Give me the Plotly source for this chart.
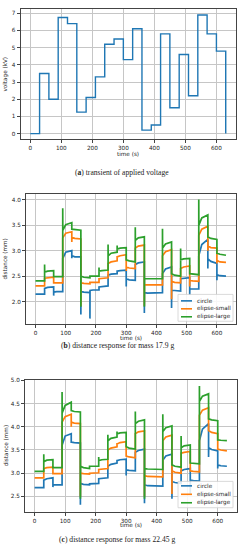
import plotly.graph_objects as go

# ---------------- data ----------------
time_steps = [0, 30, 60, 90, 120, 150, 180, 210, 240, 270, 300, 330, 360, 390, 420, 450, 480, 510, 540, 570, 600]
end_time = 630
voltage_kv = [0, 3.5, 2.0, 6.75, 6.4, 1.25, 2.1, 3.3, 5.2, 5.5, 4.3, 6.1, 0.2, 0.5, 5.8, 1.5, 4.6, 2.2, 6.9, 5.8, 4.8]
voltage_end = 0

series_names = ["circle", "elipse-small", "elipse-large"]

# mass 17.9 g  (per 30 s step: spike at step, level just after, level ~10 s later, level at end)
b_circle_spike = [2.15, 2.26, 2.12, 2.86, 2.85, 1.75, 1.67, 2.29, 2.52, 2.60, 2.30, 2.73, 1.78, 2.18, 2.55, 1.88, 2.45, 2.13, 2.90, 2.65, 2.42]
b_circle_start = [2.15, 2.26, 2.19, 2.85, 2.90, 2.20, 2.22, 2.29, 2.52, 2.60, 2.45, 2.73, 2.18, 2.18, 2.55, 2.22, 2.45, 2.25, 2.90, 2.84, 2.53]
b_circle_mid   = [2.15, 2.28, 2.20, 2.97, 2.88, 2.19, 2.23, 2.30, 2.54, 2.61, 2.43, 2.76, 2.17, 2.18, 2.64, 2.22, 2.46, 2.25, 3.12, 2.79, 2.51]
b_circle_end   = [2.15, 2.29, 2.20, 3.00, 2.88, 2.18, 2.23, 2.31, 2.55, 2.62, 2.42, 2.78, 2.17, 2.18, 2.68, 2.21, 2.47, 2.25, 3.22, 2.75, 2.50]

b_small_spike = [2.31, 2.46, 2.37, 3.25, 3.17, 1.92, 2.38, 2.45, 2.75, 2.88, 2.60, 3.05, 1.92, 2.33, 2.90, 2.05, 2.65, 2.30, 3.30, 3.00, 2.75]
b_small_start = [2.31, 2.46, 2.37, 3.25, 3.26, 2.37, 2.38, 2.45, 2.75, 2.88, 2.68, 3.05, 2.33, 2.33, 2.90, 2.40, 2.65, 2.42, 3.30, 3.09, 2.81]
b_small_mid   = [2.31, 2.47, 2.37, 3.34, 3.24, 2.36, 2.38, 2.46, 2.78, 2.90, 2.66, 3.09, 2.33, 2.33, 2.98, 2.38, 2.68, 2.41, 3.42, 3.06, 2.78]
b_small_end   = [2.31, 2.48, 2.37, 3.37, 3.23, 2.35, 2.38, 2.47, 2.80, 2.92, 2.65, 3.11, 2.33, 2.33, 3.02, 2.37, 2.70, 2.40, 3.48, 3.05, 2.77]

b_large_spike = [2.41, 2.73, 2.49, 3.83, 3.42, 1.90, 2.50, 2.67, 3.12, 3.10, 2.82, 3.46, 1.90, 2.45, 3.43, 2.55, 3.04, 2.55, 4.00, 3.27, 2.95]
b_large_start = [2.41, 2.58, 2.49, 3.40, 3.42, 2.50, 2.50, 2.60, 2.90, 3.03, 2.82, 3.20, 2.45, 2.45, 3.05, 2.55, 2.82, 2.55, 3.50, 3.27, 2.95]
b_large_mid   = [2.41, 2.60, 2.49, 3.51, 3.41, 2.48, 2.50, 2.61, 2.95, 3.05, 2.80, 3.25, 2.45, 2.45, 3.13, 2.52, 2.84, 2.54, 3.64, 3.24, 2.93]
b_large_end   = [2.41, 2.61, 2.49, 3.55, 3.40, 2.47, 2.50, 2.62, 2.97, 3.06, 2.78, 3.27, 2.45, 2.45, 3.17, 2.50, 2.85, 2.53, 3.70, 3.22, 2.91]

# mass 22.45 g
c_circle_spike = [2.69, 2.85, 2.70, 3.60, 3.67, 2.32, 2.77, 2.88, 3.15, 3.27, 2.95, 3.45, 2.35, 2.72, 3.28, 2.45, 3.05, 2.55, 3.70, 3.35, 3.10]
c_circle_start = [2.69, 2.85, 2.75, 3.60, 3.67, 2.78, 2.77, 2.88, 3.15, 3.27, 3.07, 3.45, 2.75, 2.72, 3.28, 2.82, 3.05, 2.85, 3.70, 3.55, 3.18]
c_circle_mid   = [2.69, 2.88, 2.75, 3.80, 3.66, 2.76, 2.77, 2.89, 3.19, 3.29, 3.06, 3.49, 2.73, 2.72, 3.37, 2.80, 3.08, 2.84, 3.95, 3.51, 3.16]
c_circle_end   = [2.69, 2.90, 2.75, 3.85, 3.65, 2.75, 2.78, 2.90, 3.22, 3.30, 3.05, 3.52, 2.72, 2.72, 3.41, 2.78, 3.10, 2.83, 4.07, 3.48, 3.15]

c_small_spike = [2.90, 3.10, 2.99, 4.10, 4.00, 2.50, 3.00, 3.08, 3.50, 3.63, 3.37, 3.85, 2.50, 2.92, 3.70, 2.55, 3.43, 3.05, 4.25, 3.92, 3.52]
c_small_start = [2.90, 3.10, 2.99, 4.10, 4.10, 3.00, 3.00, 3.08, 3.50, 3.63, 3.37, 3.85, 2.95, 2.92, 3.70, 3.05, 3.43, 3.05, 4.25, 3.92, 3.52]
c_small_mid   = [2.90, 3.12, 2.99, 4.22, 4.08, 2.99, 3.00, 3.09, 3.54, 3.66, 3.35, 3.89, 2.93, 2.92, 3.78, 3.02, 3.45, 3.04, 4.36, 3.88, 3.50]
c_small_end   = [2.90, 3.13, 2.99, 4.27, 4.07, 2.98, 3.01, 3.10, 3.57, 3.68, 3.33, 3.91, 2.92, 2.92, 3.82, 3.00, 3.47, 3.03, 4.41, 3.85, 3.48]

c_large_spike = [3.04, 3.41, 3.12, 4.75, 4.35, 2.45, 3.15, 3.35, 3.83, 3.90, 3.57, 4.33, 2.45, 3.08, 4.27, 3.18, 3.80, 3.22, 4.88, 4.17, 3.72]
c_large_start = [3.04, 3.25, 3.12, 4.30, 4.35, 3.15, 3.15, 3.27, 3.70, 3.85, 3.57, 4.07, 3.10, 3.08, 3.90, 3.18, 3.55, 3.22, 4.55, 4.17, 3.72]
c_large_mid   = [3.04, 3.28, 3.12, 4.46, 4.33, 3.12, 3.15, 3.29, 3.75, 3.87, 3.54, 4.12, 3.09, 3.08, 3.98, 3.15, 3.59, 3.21, 4.66, 4.15, 3.71]
c_large_end   = [3.04, 3.29, 3.12, 4.53, 4.32, 3.10, 3.15, 3.30, 3.78, 3.88, 3.52, 4.15, 3.08, 3.08, 4.02, 3.13, 3.61, 3.20, 4.71, 4.13, 3.70]

captions = [
    "(<b>a</b>) transient of applied voltage",
    "(<b>b</b>) distance response for mass 17.9 g",
    "(<b>c</b>) distance response for mass 22.45 g",
]

# ---------------- styling ----------------
W, H = 242, 550
colors = ["#1f77b4", "#ff7f0e", "#2ca02c"]
TICK_FONT = dict(family="DejaVu Sans", size=5.7, color="#222")
CAP_FONT = dict(family="Liberation Serif", size=7.6, color="#222")

def px_x(p):
    return p / W

def px_y(p):
    return 1 - p / H

panels = {
    "a": dict(x=(20.5, 235.5), y=(6, 137)),
    "b": dict(x=(26, 235.5), y=(192, 323)),
    "c": dict(x=(25, 236.5), y=(379, 511.5)),
}


def response_xy(spike, start, mid, end):
    xs, ys = [], []
    for t, s, a, m, e in zip(time_steps, spike, start, mid, end):
        xs += [t, t + 0.3, t + 10, t + 30]
        ys += [s, a, m, e]
    return xs, ys


fig = go.Figure()

# (a) voltage
fig.add_trace(go.Scatter(
    x=time_steps + [end_time], y=voltage_kv + [voltage_end],
    mode="lines", line=dict(color=colors[0], width=1.4, shape="hv"),
    xaxis="x", yaxis="y", showlegend=False, hoverinfo="skip"))

b_sets = [
    (b_circle_spike, b_circle_start, b_circle_mid, b_circle_end),
    (b_small_spike, b_small_start, b_small_mid, b_small_end),
    (b_large_spike, b_large_start, b_large_mid, b_large_end),
]
c_sets = [
    (c_circle_spike, c_circle_start, c_circle_mid, c_circle_end),
    (c_small_spike, c_small_start, c_small_mid, c_small_end),
    (c_large_spike, c_large_start, c_large_mid, c_large_end),
]
for sets, xa, ya in [(b_sets, "x2", "y2"), (c_sets, "x3", "y3")]:
    for name, col, s in zip(series_names, colors, sets):
        xs, ys = response_xy(*s)
        fig.add_trace(go.Scatter(
            x=xs, y=ys, name=name, mode="lines",
            line=dict(color=col, width=1.7),
            xaxis=xa, yaxis=ya, showlegend=False, hoverinfo="skip"))

axis_common = dict(
    showline=True, mirror=True, linecolor="#444", linewidth=0.9,
    showgrid=True, gridcolor="#c6c6c6", gridwidth=0.9,
    ticks="outside", ticklen=3, tickwidth=0.8, tickcolor="#444",
    tickfont=TICK_FONT, zeroline=False,
)

layout = dict(
    width=W, height=H, margin=dict(l=0, r=0, t=0, b=0),
    paper_bgcolor="white", plot_bgcolor="white", showlegend=False,
)
xranges = [-31.5, 661.5]
yranges = {"a": [-0.33, 7.25], "b": [1.56, 4.11], "c": [2.17, 5.01]}
ytick = {
    "a": dict(tickvals=[0, 1, 2, 3, 4, 5, 6, 7]),
    "b": dict(tickvals=[2.0, 2.5, 3.0, 3.5, 4.0], tickformat=".1f"),
    "c": dict(tickvals=[2.5, 3.0, 3.5, 4.0, 4.5, 5.0], tickformat=".1f"),
}
for i, key in enumerate(["a", "b", "c"]):
    sfx = "" if i == 0 else str(i + 1)
    p = panels[key]
    layout["xaxis" + sfx] = dict(
        axis_common, domain=[px_x(p["x"][0]), px_x(p["x"][1])],
        range=xranges, tickvals=[0, 100, 200, 300, 400, 500, 600],
        anchor="y" + sfx)
    layout["yaxis" + sfx] = dict(
        axis_common, domain=[px_y(p["y"][1]), px_y(p["y"][0])],
        range=yranges[key], anchor="x" + sfx, **ytick[key])
fig.update_layout(**layout)

annotations = []
shapes = []
# axis titles and captions
x_title_y = {"a": 152, "b": 337, "c": 525}
cap_y = {"a": 170, "b": 344, "c": 539}
y_title = {"a": "voltage (kV)", "b": "distance (mm)", "c": "distance (mm)"}
for i, key in enumerate(["a", "b", "c"]):
    p = panels[key]
    xc = (p["x"][0] + p["x"][1]) / 2
    yc = (p["y"][0] + p["y"][1]) / 2
    annotations.append(dict(text="time (s)", x=px_x(xc), y=px_y(x_title_y[key]),
                            xref="paper", yref="paper", showarrow=False,
                            font=TICK_FONT, xanchor="center", yanchor="middle"))
    annotations.append(dict(text=y_title[key], x=px_x(5.5), y=px_y(yc),
                            xref="paper", yref="paper", showarrow=False, textangle=-90,
                            font=TICK_FONT, xanchor="center", yanchor="middle"))
    annotations.append(dict(text=captions[i], x=px_x(117 if key != "a" else 122),
                            y=px_y(cap_y[key]),
                            xref="paper", yref="paper", showarrow=False,
                            font=CAP_FONT, xanchor="center", yanchor="middle"))

# legends (b) and (c)
legend_boxes = {"b": (178, 233, 293, 320, [299.5, 307.5, 315.5]),
                "c": (178, 233, 481, 507.5, [485.5, 494, 502.5])}
for key, (x0, x1, y0, y1, rows) in legend_boxes.items():
    shapes.append(dict(type="rect", xref="paper", yref="paper",
                       x0=px_x(x0), x1=px_x(x1), y0=px_y(y1), y1=px_y(y0),
                       fillcolor="rgba(255,255,255,0.85)",
                       line=dict(color="#d0d0d0", width=0.8), layer="above"))
    for name, col, ry in zip(series_names, colors, rows):
        shapes.append(dict(type="line", xref="paper", yref="paper",
                           x0=px_x(x0 + 3), x1=px_x(x0 + 14), y0=px_y(ry), y1=px_y(ry),
                           line=dict(color=col, width=1.6), layer="above"))
        annotations.append(dict(text=name, x=px_x(x0 + 16.5), y=px_y(ry),
                                xref="paper", yref="paper", showarrow=False,
                                font=TICK_FONT, xanchor="left", yanchor="middle"))

fig.update_layout(annotations=annotations, shapes=shapes)
fig.write_html("out.html", config={"displayModeBar": False},
               post_script="document.body.style.margin='0';")
